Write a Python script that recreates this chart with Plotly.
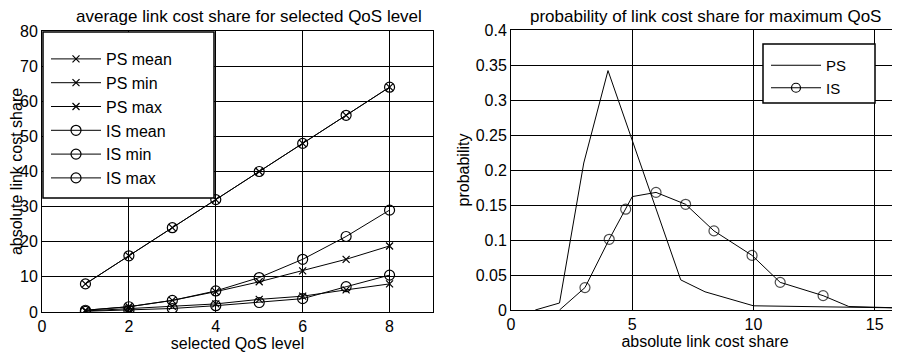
import plotly.graph_objects as go

# ---------- data: left panel ----------
qos_levels = [1, 2, 3, 4, 5, 6, 7, 8]
ps_mean = [0.5, 1.5, 3.3, 5.8, 8.6, 11.7, 15.0, 18.8]
ps_min = [0.3, 0.9, 1.6, 2.3, 3.6, 4.5, 6.3, 8.0]
ps_max = [8, 16, 24, 32, 40, 48, 56, 64]
is_mean = [0.5, 1.5, 3.3, 6.0, 9.8, 15.0, 21.5, 29.0]
is_min = [0.2, 0.5, 1.0, 1.8, 2.7, 3.8, 7.2, 10.5]
is_max = [8, 16, 24, 32, 40, 48, 56, 64]

# ---------- data: right panel ----------
ps_cost = [1, 2, 3, 4, 7, 8, 10, 14, 16]
ps_prob = [0.0, 0.01, 0.21, 0.342, 0.043, 0.026, 0.006, 0.004, 0.003]
is_cost = [2, 3.05, 4.05, 4.73, 5.0, 5.98, 7.2, 8.37, 9.94, 11.1, 12.87, 13.93, 16]
is_prob = [0.0, 0.032, 0.101, 0.144, 0.162, 0.168, 0.151, 0.113, 0.078, 0.0395, 0.0205, 0.005, 0.003]
is_marked = [False, True, True, True, False, True, True, True, True, True, True, False, False]

left_x_ticks = [0, 2, 4, 6, 8]
left_y_ticks = [0, 10, 20, 30, 40, 50, 60, 70, 80]
right_x_ticks = [0, 5, 10, 15]
right_y_ticks = [0, 0.05, 0.1, 0.15, 0.2, 0.25, 0.3, 0.35, 0.4]
right_y_labels = ["0", "0.05", "0.1", "0.15", "0.2", "0.25", "0.3", "0.35", "0.4"]

FONT = "Liberation Sans, Arial, Helvetica, sans-serif"
OFF = 8  # page body margin
W, H = 900 - OFF, 353 - OFF

fig = go.Figure()

line = dict(color="black", width=1)
xm = dict(symbol="x-thin-open", size=7, line=dict(color="black", width=1.2), color="black")
om = dict(symbol="circle-open", size=10, line=dict(color="black", width=1.2), color="black")

left_series = [
    ("PS mean", ps_mean, xm),
    ("PS min", ps_min, xm),
    ("PS max", ps_max, xm),
    ("IS mean", is_mean, om),
    ("IS min", is_min, om),
    ("IS max", is_max, om),
]
for name, ys, mk in left_series:
    fig.add_trace(go.Scatter(x=qos_levels, y=ys, name=name, mode="lines+markers",
                             line=line, marker=mk, xaxis="x", yaxis="y", legend="legend"))

fig.add_trace(go.Scatter(x=ps_cost, y=ps_prob, name="PS", mode="lines", line=line,
                         xaxis="x2", yaxis="y2", legend="legend2"))
fig.add_trace(go.Scatter(x=is_cost, y=is_prob, name="IS", mode="lines+markers", line=line,
                         marker=dict(symbol="circle-open", size=[10 if m else 0 for m in is_marked],
                                     line=dict(color="black", width=1.2), color="black"),
                         xaxis="x2", yaxis="y2", legend="legend2", showlegend=False))
# legend entry for IS (line with circle)
fig.add_trace(go.Scatter(x=[None], y=[None], name="IS", mode="lines+markers", line=line,
                         marker=dict(symbol="circle-open", size=9, line=dict(color="black", width=1.2)),
                         xaxis="x2", yaxis="y2", legend="legend2"))

def px_x(p):
    return (p - OFF) / W

def px_y(p):
    return 1 - (p - OFF) / H

axis_common = dict(showline=True, mirror=True, linecolor="black", linewidth=1,
                   ticks="inside", ticklen=5, tickcolor="black",
                   showgrid=True, gridcolor="black", gridwidth=1, zeroline=False,
                   tickfont=dict(family=FONT, size=16, color="black"),
                   automargin=False)

fig.update_layout(
    width=W, height=H,
    margin=dict(l=0, r=0, t=0, b=0),
    paper_bgcolor="white", plot_bgcolor="white",
    font=dict(family=FONT, size=16, color="black"),
    xaxis=dict(domain=[px_x(42), px_x(433)], range=[0, 9], tickvals=left_x_ticks,
               anchor="y",
               title=dict(text="selected QoS level", font=dict(size=16), standoff=0),
               **axis_common),
    yaxis=dict(domain=[px_y(312), px_y(31)], range=[0, 80], tickvals=left_y_ticks,
               anchor="x",
               title=dict(text="absolute link cost share", font=dict(size=16), standoff=2),
               **axis_common),
    xaxis2=dict(domain=[px_x(511), px_x(899)], range=[0, 16], tickvals=right_x_ticks,
                anchor="y2",
                title=dict(text="absolute link cost share", font=dict(size=16), standoff=1),
                **axis_common),
    yaxis2=dict(domain=[px_y(310), px_y(30)], range=[0, 0.4], tickvals=right_y_ticks,
                ticktext=right_y_labels, anchor="x2",
                title=dict(text="probability", font=dict(size=16), standoff=2),
                **axis_common),
    legend=dict(x=px_x(46), y=px_y(42), xanchor="left", yanchor="top",
                bgcolor="rgba(0,0,0,0)", borderwidth=0,
                font=dict(family=FONT, size=16, color="black"), itemwidth=50),
    legend2=dict(x=px_x(766), y=px_y(49), xanchor="left", yanchor="top",
                 bgcolor="rgba(0,0,0,0)", borderwidth=0,
                 font=dict(family=FONT, size=15, color="black"), itemwidth=50),
    shapes=[
        dict(type="rect", xref="paper", yref="paper", x0=px_x(43), x1=px_x(214),
             y0=px_y(198), y1=px_y(32), fillcolor="white", line=dict(color="black", width=1.5),
             layer="above"),
        dict(type="rect", xref="paper", yref="paper", x0=px_x(763), x1=px_x(875),
             y0=px_y(103), y1=px_y(44), fillcolor="white", line=dict(color="black", width=1.5),
             layer="above"),
    ],
    annotations=[
        dict(text="average link cost share for selected QoS level", xref="paper", yref="paper",
             x=px_x(249), y=px_y(17), showarrow=False, xanchor="center", yanchor="middle",
             borderpad=0, font=dict(family=FONT, size=17, color="black")),
        dict(text="probability of link cost share for maximum QoS", xref="paper", yref="paper",
             x=px_x(705), y=px_y(17), showarrow=False, xanchor="center", yanchor="middle",
             borderpad=0, font=dict(family=FONT, size=17, color="black")),
    ],
)

fig.write_html("out.html")
